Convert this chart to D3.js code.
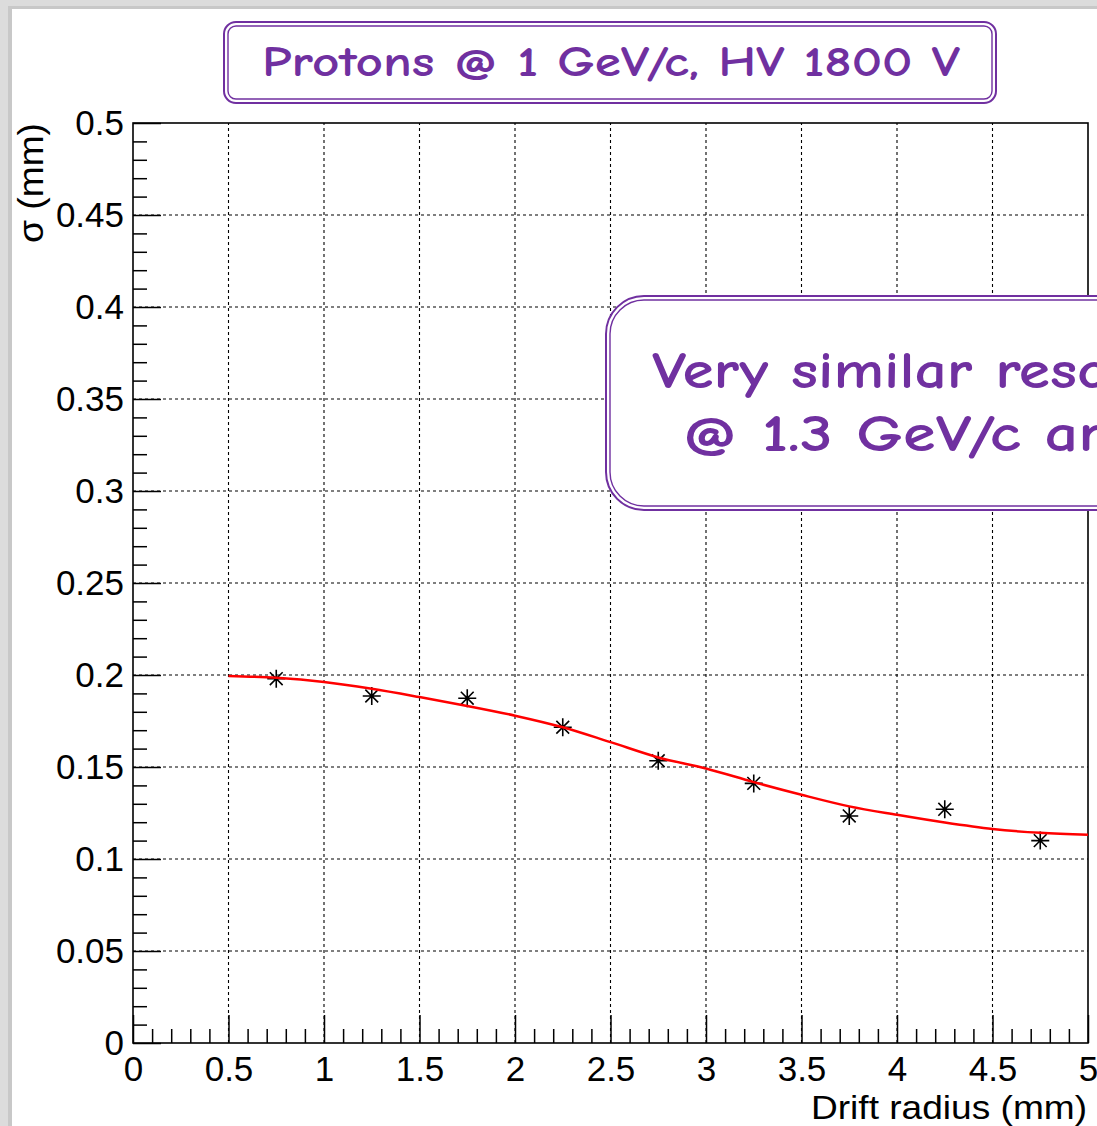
<!DOCTYPE html>
<html>
<head>
<meta charset="utf-8">
<script src="https://cdn.jsdelivr.net/npm/d3@7"></script>
<style>
  html, body { margin: 0; padding: 0; background: #fff; }
  svg { display: block; }
</style>
</head>
<body>
<svg id="chart" width="1097" height="1126"></svg>
<script>
// ---- data ----
const radiusPoints = [0.75, 1.25, 1.75, 2.25, 2.75, 3.25, 3.75, 4.25, 4.75];
const sigmaPoints  = [0.198, 0.1886, 0.1874, 0.1716, 0.1534, 0.1411, 0.1234, 0.127, 0.110];

const fitRadius = [0.5, 0.75, 1.0, 1.25, 1.5, 1.75, 2.0, 2.25, 2.5, 2.75, 3.0, 3.25, 3.5, 3.75, 4.0, 4.25, 4.5, 4.75, 5.0];
const fitSigma  = [0.1995, 0.1985, 0.1962, 0.1925, 0.188, 0.1832, 0.1779, 0.1716, 0.1635, 0.1552, 0.1492, 0.1418, 0.1349, 0.1286, 0.1240, 0.1198, 0.1163, 0.1142, 0.1132];

const xMajorTicks = [0, 0.5, 1, 1.5, 2, 2.5, 3, 3.5, 4, 4.5, 5];
const xTickLabels = ["0", "0.5", "1", "1.5", "2", "2.5", "3", "3.5", "4", "4.5", "5"];
const yMajorTicks = [0, 0.05, 0.1, 0.15, 0.2, 0.25, 0.3, 0.35, 0.4, 0.45, 0.5];
const yTickLabels = ["0", "0.05", "0.1", "0.15", "0.2", "0.25", "0.3", "0.35", "0.4", "0.45", "0.5"];

const titleText = "Protons @ 1 GeV/c, HV 1800 V";
const noteLines = ["Very similar reso", "@ 1.3 GeV/c ar"];
const xTitle = "Drift radius (mm)";
const yTitle = "σ (mm)";

// ---- drawing ----
const svg = d3.select("#chart");
const W = 1097, H = 1126;
const purple = "#7030a0";
const boxFont = "'Comic Sans MS', 'Comic Neue', 'Segoe Print', 'Noto Sans', sans-serif";
const axisFont = "'Liberation Sans', Arial, sans-serif";

// slide background with shadow border on top/left
svg.append("rect").attr("x", 0).attr("y", 0).attr("width", W).attr("height", H).attr("fill", "#dcdcdc");
svg.append("rect").attr("x", 8).attr("y", 6).attr("width", W).attr("height", H).attr("fill", "#c8c8c8");
svg.append("rect").attr("x", 12).attr("y", 9).attr("width", W).attr("height", H).attr("fill", "#ffffff");

const x = d3.scaleLinear().domain([0, 5]).range([133, 1088]);
const y = d3.scaleLinear().domain([0, 0.5]).range([1043, 123]);

// grid
const grid = svg.append("g").attr("stroke", "#000").attr("stroke-width", 1.1).attr("stroke-dasharray", "3,3");
grid.selectAll("line.gx").data(xMajorTicks.filter(v => v > 0 && v < 5)).join("line")
  .attr("x1", d => x(d)).attr("x2", d => x(d)).attr("y1", y(0)).attr("y2", y(0.5));
grid.selectAll("line.gy").data(yMajorTicks.filter(v => v > 0 && v < 0.5)).join("line")
  .attr("x1", x(0)).attr("x2", x(5)).attr("y1", d => y(d)).attr("y2", d => y(d));

// minor ticks
const xMinor = d3.range(0, 50).map(i => i / 10).filter(v => Math.abs(v * 2 - Math.round(v * 2)) > 1e-6);
const yMinor = d3.range(0, 50).map(i => i / 100).filter(v => Math.abs(v * 20 - Math.round(v * 20)) > 1e-6);

const styleAxis = g => {
  g.select(".domain").remove();
  g.selectAll(".tick line").attr("stroke", "#000").attr("stroke-width", 1.5);
  g.selectAll(".tick text").attr("fill", "#000").style("font-family", axisFont).style("font-size", "35px");
};

svg.append("g").attr("transform", `translate(0,${y(0)})`)
  .call(d3.axisBottom(x).tickValues(xMinor).tickSizeInner(-14).tickSizeOuter(0).tickFormat(""))
  .call(styleAxis);
svg.append("g").attr("transform", `translate(${x(0)},0)`)
  .call(d3.axisLeft(y).tickValues(yMinor).tickSizeInner(-14).tickSizeOuter(0).tickFormat(""))
  .call(styleAxis);

// major ticks + labels
svg.append("g").attr("transform", `translate(0,${y(0)})`)
  .call(d3.axisBottom(x).tickValues(xMajorTicks).tickSizeInner(-28).tickSizeOuter(0).tickPadding(13)
    .tickFormat((d, i) => xTickLabels[i]))
  .call(styleAxis);
svg.append("g").attr("transform", `translate(${x(0)},0)`)
  .call(d3.axisLeft(y).tickValues(yMajorTicks).tickSizeInner(-28).tickSizeOuter(0).tickPadding(9)
    .tickFormat((d, i) => yTickLabels[i]))
  .call(styleAxis);

// frame
svg.append("rect").attr("x", x(0)).attr("y", y(0.5)).attr("width", x(5) - x(0)).attr("height", y(0) - y(0.5))
  .attr("fill", "none").attr("stroke", "#000").attr("stroke-width", 1.6);

// axis titles
svg.append("text").attr("x", 1087).attr("y", 1119).attr("text-anchor", "end")
  .attr("textLength", 276).attr("lengthAdjust", "spacingAndGlyphs")
  .style("font-family", axisFont).style("font-size", "34px").attr("fill", "#000").text(xTitle);
svg.append("text").attr("transform", "translate(43,123) rotate(-90)").attr("text-anchor", "end")
  .attr("textLength", 120).attr("lengthAdjust", "spacingAndGlyphs")
  .style("font-family", axisFont).style("font-size", "35px").attr("fill", "#000").text(yTitle);

// data markers (asterisks)
const star = "M-9,0H9M0,-9V9M-6.4,-6.4L6.4,6.4M-6.4,6.4L6.4,-6.4";
svg.append("g").selectAll("path").data(radiusPoints.map((r, i) => [r, sigmaPoints[i]])).join("path")
  .attr("transform", d => `translate(${x(d[0])},${y(d[1])})`)
  .attr("d", star).attr("fill", "none").attr("stroke", "#000").attr("stroke-width", 1.6);

// fit curve
const line = d3.line().x(d => x(d[0])).y(d => y(d[1])).curve(d3.curveMonotoneX);
svg.append("path").datum(fitRadius.map((r, i) => [r, fitSigma[i]]))
  .attr("d", line).attr("fill", "none").attr("stroke", "#ff0000").attr("stroke-width", 2.5);

// boxes
function doubleBox(x0, y0, w, h, r) {
  svg.append("rect").attr("x", x0).attr("y", y0).attr("width", w).attr("height", h).attr("rx", r).attr("ry", r)
    .attr("fill", "#fff").attr("stroke", purple).attr("stroke-width", 2);
  svg.append("rect").attr("x", x0 + 4).attr("y", y0 + 4).attr("width", w - 8).attr("height", h - 8)
    .attr("rx", Math.max(r - 4, 2)).attr("ry", Math.max(r - 4, 2))
    .attr("fill", "none").attr("stroke", purple).attr("stroke-width", 1.4);
}
doubleBox(224, 22, 772, 81, 12);
svg.append("text").attr("x", 262).attr("y", 76)
  .attr("textLength", 698).attr("lengthAdjust", "spacingAndGlyphs")
  .style("font-family", boxFont).style("font-size", "42px").style("font-weight", "bold")
  .attr("fill", purple).text(titleText);

// annotation box (runs off the right edge)
doubleBox(606, 296, 620, 214, 38);
svg.append("text").attr("x", 652).attr("y", 388)
  .attr("textLength", 458).attr("lengthAdjust", "spacingAndGlyphs")
  .style("font-family", boxFont).style("font-size", "52px").style("font-weight", "bold")
  .attr("fill", purple).text(noteLines[0]);
svg.append("text").attr("x", 682).attr("y", 451)
  .attr("textLength", 423).attr("lengthAdjust", "spacingAndGlyphs")
  .style("font-family", boxFont).style("font-size", "52px").style("font-weight", "bold")
  .attr("fill", purple).text(noteLines[1]);
</script>
</body>
</html>
